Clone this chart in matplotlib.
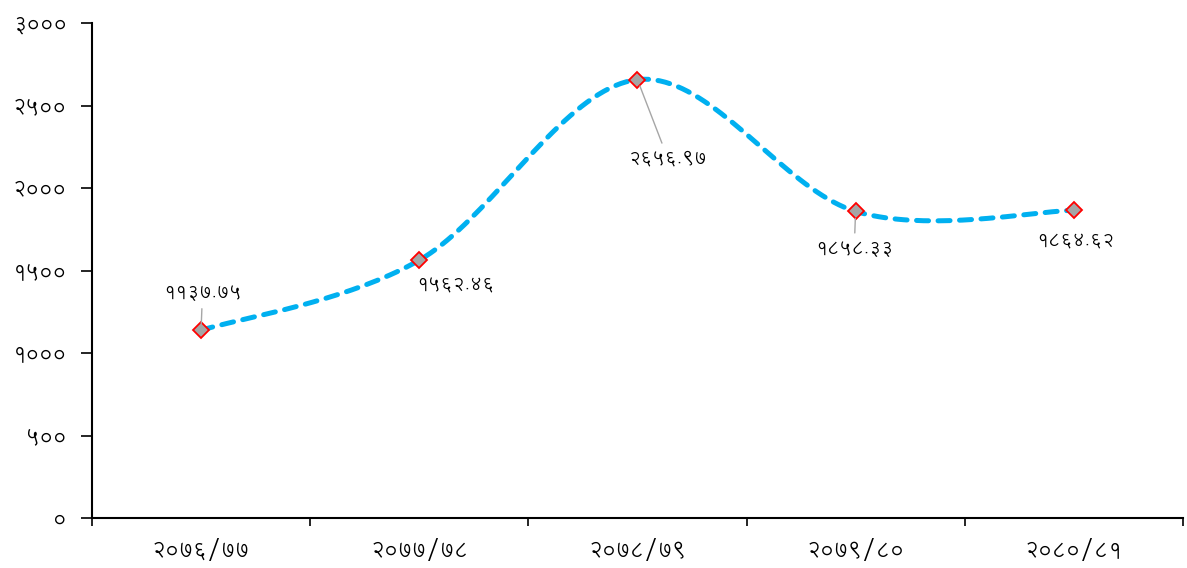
import numpy as np
import matplotlib
matplotlib.use('Agg')
import matplotlib.pyplot as plt

# data
years = ['२०७६/७७', '२०७७/७८', '२०७८/७९', '२०७९/८०', '२०८०/८१']
values = [1137.75, 1562.46, 2656.97, 1858.33, 1864.62]
value_labels = ['११३७.७५', '१५६२.४६', '२६५६.९७', '१८५८.३३', '१८६४.६२']
ytick_vals = [0, 500, 1000, 1500, 2000, 2500, 3000]
ytick_labels = ['०', '५००', '१०००', '१५००', '२०००', '२५००', '३०००']

plt.rcParams['font.family'] = ['Lohit Devanagari', 'FreeSans', 'DejaVu Sans']


def smooth(xs, ys, n=40):
    # excel-like smoothed line: bezier with tangents from neighbours
    pts = np.column_stack([xs, ys]).astype(float)
    p = np.vstack([pts[0], pts, pts[-1]])
    out = []
    t = np.linspace(0, 1, n)[:, None]
    for i in range(1, len(p) - 2):
        p0, p1 = p[i], p[i + 1]
        c1 = p0 + (p[i + 1] - p[i - 1]) / 6
        c2 = p1 - (p[i + 2] - p[i]) / 6
        seg = (1 - t) ** 3 * p0 + 3 * (1 - t) ** 2 * t * c1 + 3 * (1 - t) * t ** 2 * c2 + t ** 3 * p1
        out.append(seg if i == 1 else seg[1:])
    out = np.vstack(out)
    return out[:, 0], out[:, 1]


fig = plt.figure(figsize=(11.87, 5.68), dpi=100)
ax = fig.add_axes([0.0775, 0.088, 0.919, 0.8715])

x = np.arange(len(years))
sx, sy = smooth(x, values)
ax.plot(sx, sy, color='#00B0F0', lw=3.6, linestyle=(0, (2.4, 1.9)),
        dash_capstyle='round', zorder=2)
ax.plot(x, values, linestyle='none', marker='D', ms=8, mfc='#A5A5A5',
        mec='#FF0000', mew=1.3, zorder=3)

# labels (offsets in points) and leader lines
offsets = [(1, 27), (26, -18), (22, -57), (-1, -27), (1, -22)]
leaders = [True, False, True, True, False]
for i in range(len(values)):
    dx, dy = offsets[i]
    ax.annotate(value_labels[i], (x[i], values[i]), xytext=(dx, dy),
                textcoords='offset points', ha='center', va='center',
                fontsize=13.5, color='#000000',
                arrowprops=dict(arrowstyle='-', color='#A6A6A6', lw=1.0,
                                shrinkA=3, shrinkB=5) if leaders[i] else None)

ax.set_xlim(-0.5, len(years) - 0.5)
ax.set_ylim(0, 3000)
ax.set_yticks(ytick_vals)
ax.set_yticklabels(ytick_labels, fontsize=15)
ax.set_xticks(np.arange(-0.5, len(years), 1.0))
ax.set_xticklabels([])
ax.set_xticks(x, minor=True)
ax.set_xticklabels(years, minor=True, fontsize=15.5)
ax.tick_params(axis='x', which='minor', length=0, pad=15)
ax.tick_params(axis='x', which='major', length=6, width=1.2, direction='out')
ax.tick_params(axis='y', length=8, width=1.2, direction='out', pad=10)
for s in ['top', 'right']:
    ax.spines[s].set_visible(False)
for s in ['left', 'bottom']:
    ax.spines[s].set_linewidth(1.5)

fig.savefig('out.png', dpi=100)
